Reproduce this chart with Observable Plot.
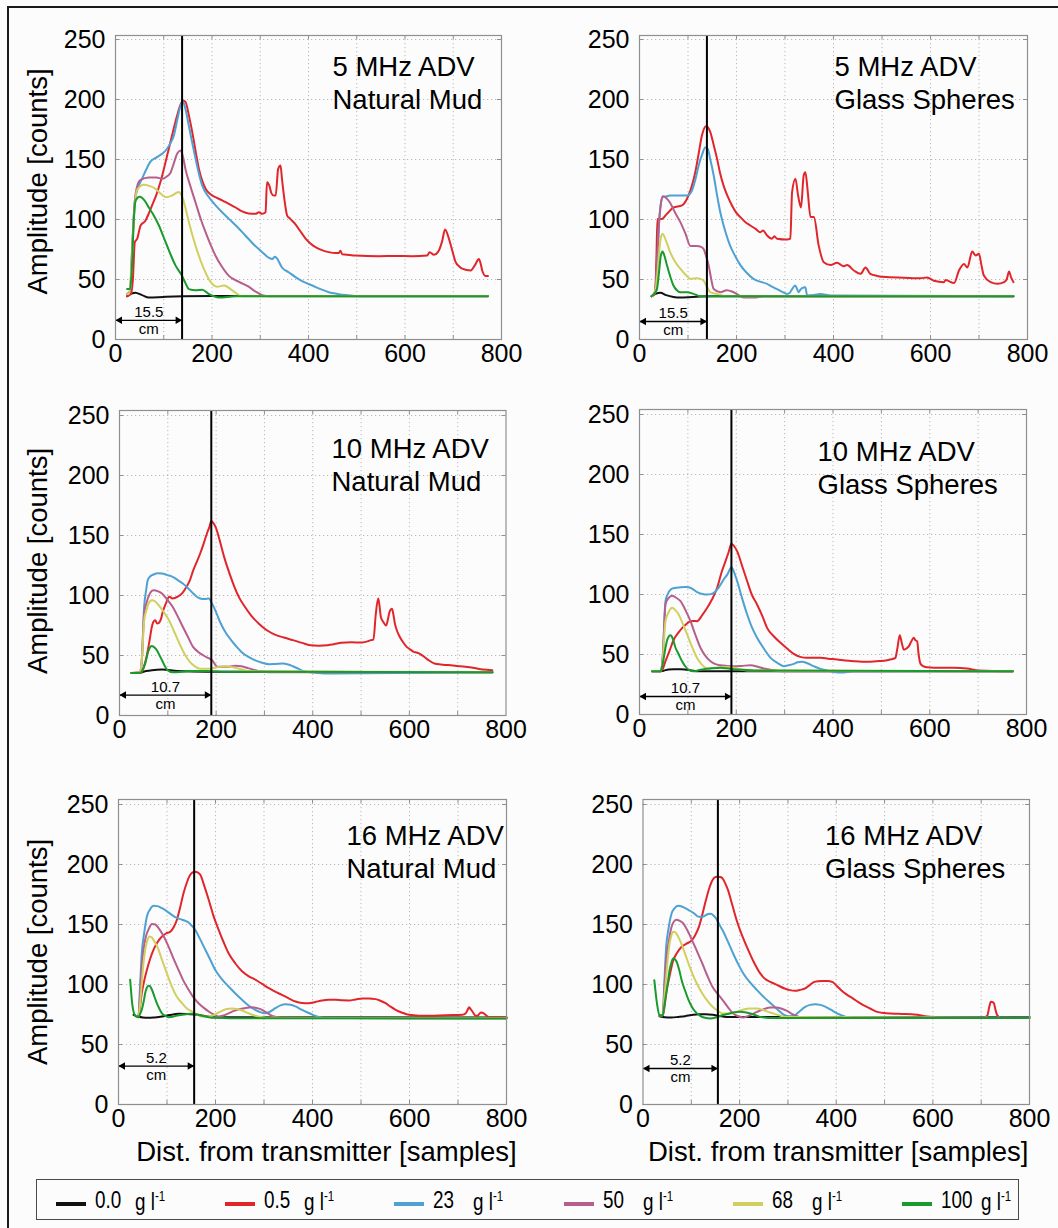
<!DOCTYPE html>
<html>
<head>
<meta charset="utf-8">
<script src="https://cdn.jsdelivr.net/npm/d3@7"></script>
<script src="https://cdn.jsdelivr.net/npm/@observablehq/plot@0.6"></script>
<style>
  html, body { margin:0; padding:0; background:#fcfcfc; }
  #fig { position:relative; width:1058px; height:1228px; overflow:hidden; background:#fcfcfc; font-family:"Liberation Sans", Arial, Helvetica, sans-serif; color:#000; }
  #outline { position:absolute; left:7px; top:6px; width:1070px; height:1240px; border-top:2px solid #1a1a1a; border-left:2px solid #1a1a1a; }
  .panel { position:absolute; }
  .panel svg { overflow:visible; }
  #legend { position:absolute; left:36px; top:1179px; width:983px; height:41px; border:1px solid #4a4a4a; box-sizing:border-box; }
  .lg-line { position:absolute; height:4px; width:30px; }
  .lg-txt { position:absolute; font-family:"Liberation Sans", Arial, sans-serif; font-size:23px; line-height:1; white-space:pre; transform:scaleX(0.82); transform-origin:0 50%; }
  .lg-txt sup { font-size:14px; }
</style>
</head>
<body>
<div id="fig">
  <div id="outline"></div>
  <div id="legend"></div>
</div>
<script>
// ---------------- series: [distance (samples), amplitude (counts)] ----------------
// 5 MHz, natural mud
const n5_0 = [[24,36],[32,38],[41,39],[55,37],[69,35],[100,35.5],[140,36],[200,36.3],[772,36.3]];
const n5_05 = [[24,36],[32,38],[36,50],[40,81],[45,84],[52,95],[62,99],[69,105],[76,112],[85,121],[93,131],[102,145],[110.5,159],[119,173],[128,187],[134,195],[140,199],[145,198],[152,187],[159,173],[166,157],[173,142],[180,132],[187,125.5],[197,121],[207,118.6],[221,116],[235,113],[249,110],[262.5,106.7],[276,105],[290,104.7],[297,106],[304,104.7],[311,106],[314,131],[319,128],[323,122],[328,120],[332,120],[337,142],[342,145],[345,134],[350,117],[356,103],[361,101],[366,99],[373,96],[380,92],[387,88],[394,84],[404,80],[414.5,77],[428,74.5],[442,72.8],[456,72],[463,72],[466,74],[470,71],[497,70],[546,69.4],[580,69.6],[615,69.4],[646,70],[651,72.8],[660,70.6],[670,74],[677,82],[683,91.7],[691,84],[698,74],[705,64.4],[712,61],[718.5,59],[736,57.5],[745,62],[753,67],[757,63],[760,57.5],[767,53],[772,53]];
const n5_23 = [[24,38],[30,40],[35,80],[40,115],[48,128],[55,134],[63,141],[72,148],[86,152],[104,157.5],[113,163],[121,170],[128,183],[135,195],[140,198],[145,192],[152,178],[159,164],[166,150.5],[173,138],[180,128],[193,119],[207,112],[221,106],[235,100.5],[252,94],[269,86.7],[287,79],[304,72.8],[318,68],[325,67],[330,69],[334,68],[345,60],[359,56],[373,52],[390,48],[408,45],[425,42],[442,39.4],[460,38],[477,37],[511,36],[772,36]];
const n5_50 = [[24,38],[30,40],[35,80],[40,115],[45,128],[52,133],[69,135],[85,135],[97,134],[107,136],[114,139],[121,147],[128,155],[135,157.5],[140,152],[145,142],[155,128],[166,114],[177,100],[187,89],[197,79],[207,70],[220,61],[235,53],[256,48],[276,44],[290,40],[304,37],[320,36],[772,36]];
const n5_68 = [[24,38],[28,38],[33,60],[38,100],[45,125],[59,129],[70,128],[83,125.5],[95,121],[104,118.6],[117,120],[131,123],[140,117],[146,108],[152,98],[166,78],[180,62],[197,48],[211,44],[225,45],[242,41],[262,36],[772,36]];
const n5_100 = [[24,42],[30,42],[34,60],[38,100],[42,116],[50,119],[60,116],[69,110],[80,103],[90,95],[100,85],[107,78],[115,70],[124,62],[138,53],[145,47],[152,42],[166,41],[180,41.4],[193,38],[214,35],[249,36],[772,36]];
// 5 MHz, glass spheres
const g5_0 = [[25,36],[33,38],[43,39],[55,37],[70,35.5],[84,35],[110,35.5],[150,36],[771,36]];
const g5_05 = [[25,36],[32,38],[35,70],[37,100.5],[46,100.5],[56.5,104.7],[70,110],[87.5,111.7],[101,120],[108,128],[115,139.4],[122,155],[128.7,170],[137.7,178],[146,172.8],[153,162],[160,150.5],[166,139],[173.5,128],[182,119],[190.7,111.7],[199,106],[208,102],[218,98],[228.5,95],[240,92],[249,89.4],[254.7,90.8],[263,86.7],[273,84],[278,86],[283.5,84],[304,83.3],[311,84],[314.6,122.8],[321.5,134],[327,120],[333,110],[338.5,136.7],[342,139.4],[347,122.8],[352.5,102],[359.5,102],[369.6,78],[380,64.4],[394,62],[407.5,64],[421,61],[428,62],[442,57.5],[455.7,54.7],[466,60],[476,54.7],[490,53],[510.6,52],[545,51.5],[579.5,51],[593,51.7],[607,49],[627.7,47.8],[631,49.5],[648.6,47],[658.7,57.5],[669,63],[676,60],[686,73.3],[693,70],[700,71.4],[705,62],[710,53.3],[724,47.8],[738,46.4],[751.6,47.8],[757,50],[762,56.7],[766,52],[771,47.8]];
const g5_23 = [[25,36],[32,40],[36,60],[40,95],[44,113],[48,118.6],[56.5,119.4],[63,120],[80,120],[98,120],[108,124],[115,133],[122,145],[129,154],[135.6,160],[140.5,159],[146,150],[153,136.7],[160,120],[166.6,106],[177,90],[187,78],[198,69],[208,62],[220,56],[235,50.5],[250,48],[263,46.4],[273,44],[283.5,42],[295,39.5],[304,38],[310,39],[314.6,42],[321,45],[325,42],[328,39.4],[331,41],[335,42.8],[342,43.6],[345.6,36.7],[360,37],[373,38],[394,36.7],[771,36]];
const g5_50 = [[25,36],[32,40],[36,60],[40,95],[44,113],[48,119.4],[55,118],[63,114],[73,106],[84,98],[95,88],[105,78],[118.5,78],[125,77.5],[132,75.6],[137,70],[142.5,62],[148,50],[153,42],[166.6,39.4],[180,41],[194,39.4],[215,35],[235,35],[256,36],[771,36]];
const g5_68 = [[25,36],[32,40],[37,55],[41,75],[44,85],[47.5,88],[55,82],[63,73],[73,65],[84,59],[95,54],[105,50.5],[118.5,51],[126,50.5],[132,49],[139,44],[146,39.4],[160,38],[180,36],[771,36]];
const g5_100 = [[25,36],[30,38],[36,42],[40,55],[44,70],[47.5,73.3],[52,69],[56.5,62],[63,53],[70,45],[77,41],[84,39.4],[98,39.4],[111.5,38],[125,36],[771,36]];
// 10 MHz, natural mud
const n10_0 = [[24,35.5],[42,35.5],[55,37],[67,37.8],[88,38.3],[120,37],[181,36.5],[772,36]];
const n10_05 = [[24,35.5],[45.7,36],[50,40],[56,49],[62,62],[67,74],[70,78],[74,79.4],[78,76.7],[81,77],[85,79.4],[90,87],[95.6,93],[103,99],[110,97.5],[120.6,99],[130,102],[138.5,107],[146,113],[152.6,121],[160,128],[167,135],[174,143],[181,151.7],[186,157],[190,162],[194,160.5],[199,157],[208,145],[216.7,132],[228,118],[238,107],[248,98],[259.5,90.6],[273,83],[288,76.7],[305,71],[324,67],[340,65],[359,62.8],[378,60.5],[395,58.6],[412,58.2],[430.6,58.6],[445,59.5],[459,60.6],[480,61],[502,60.8],[515,62],[520,62.8],[525.6,63.3],[530.6,85],[535.5,97.5],[538,92],[541,82],[546,78],[552,75],[555,79],[559,86.4],[564,89],[567,84],[570,76.7],[575,70],[580,65.6],[587,61],[595,57],[602,55],[609,53],[615,52.5],[620,51.7],[625,50.5],[630.6,49],[640,46],[652,43.3],[665,42.5],[680,42],[698,41.3],[716,40.6],[735,39.5],[751.6,38.3],[771.6,37.8]];
const n10_23 = [[24,35.5],[42,35.5],[46,45],[51,90.6],[55,104],[58.5,112.8],[64,116],[70.5,117.5],[80,118.5],[88,118.3],[99,117],[110,115.6],[120,113],[131,110],[141,106.5],[152.6,101.7],[160,99],[167,97.5],[176,97],[185,97.5],[192,93],[200,86],[209.6,76.7],[220,69],[231,62.8],[242,57.5],[252.5,53],[266,49],[281,46],[295,44],[309.5,42.8],[323,43],[338,43.3],[349,42.5],[359,41],[370,39],[380.7,37],[395,36],[409,35.5],[438,35],[772,36]];
const n10_50 = [[24,35.5],[42,35.5],[46,45],[51,85],[56,94],[60,99],[65,103],[70.5,104.4],[80,103.5],[88,101.7],[99,96.5],[110,90.6],[120,83],[131,74],[141,66],[152.6,57],[163,53],[174,50],[183,48],[192,46],[197,43],[202.6,40.6],[224,40.6],[240,41.5],[252.5,41],[266,39.5],[281,37.8],[309.6,36],[772,36]];
const n10_68 = [[24,35.5],[42,35.5],[46,45],[51,79],[56,88],[60,93],[67,96],[74,95],[81,92],[92,86],[103,79],[113,70],[124,60],[135,51],[145.6,44.7],[156,41],[167,39],[188,39],[200,40],[217,41],[238,40],[252,38.5],[267,37],[772,36]];
const n10_100 = [[24,35.5],[42,35.5],[48,38],[53,43],[60,54],[67,58],[73,56.5],[78,54],[83,50],[88,46],[99,38],[110,36],[130,36.5],[145.6,37],[181,37],[220,36.5],[772,36]];
// 10 MHz, glass spheres
const g10_0 = [[26,36],[40,36],[50,36.5],[60,37.5],[71,37.8],[85,37.8],[98.5,37.2],[126,36],[772,36]];
const g10_05 = [[26,36],[43.4,36],[48,38],[53.7,44.4],[62,53],[71,62.5],[80,68],[88,72],[97,75.5],[105.4,77.8],[112,78],[119,77.8],[130,83],[140,88.9],[150,96],[160.5,105.6],[170,119],[177.8,127.8],[184,135],[190,142.2],[196,140],[202,136],[212,124],[222.6,111],[232,100],[243,91.7],[254,82],[264,72],[278,65],[291.5,59.7],[305,55],[319,50.5],[332,48],[346.6,47.2],[374,47.2],[390,46.5],[408.6,45.8],[425,45],[443,44.4],[460,44],[477.5,43.9],[495,44.5],[512,45.3],[521,46],[529,47.2],[533,55],[538,66],[542,60],[546.4,54],[552,55],[557,57],[562,61],[567,63.9],[570,62],[574,61],[577,50],[581,42.2],[588,40],[594.7,39.4],[622,38.9],[650,38.9],[677,38.3],[701.5,36.7],[772,36]];
const g10_23 = [[26,36],[43.4,36],[48,48],[53.7,94.4],[58,100],[64,104],[72,105.5],[84.8,106],[95,106.2],[102,106],[110,104.5],[119,102],[130,100.5],[140,100],[147,100.3],[153.7,101.4],[164,106],[174,112.5],[182,117],[190,122.8],[196,118],[202,111],[212,97],[222.6,83.3],[232,73],[243,64],[257,55],[271,47.2],[285,43],[298,40.3],[308,41],[319,42.2],[327,43.5],[336,43.9],[348,42.5],[360,40.3],[374,38],[388,36.7],[415.5,35],[443,36],[772,36]];
const g10_50 = [[26,36],[43.4,36],[48,48],[53.7,91.7],[60,97],[67.5,99],[75,97.5],[84.8,94.4],[95,87],[105.4,77.8],[115,67],[126,55.6],[135,49.5],[146.8,44.4],[157,42],[167.4,41],[180,40.5],[195,40.3],[210,40.5],[229.5,41],[243,40],[257,38.3],[275,37],[291.5,36],[772,36]];
const g10_68 = [[26,36],[43.4,36],[48,45],[53.7,77.8],[60,85],[67.5,88.9],[74,87],[81,83.3],[90,75],[98.5,66.7],[108,57],[119,47],[128,42],[140,38.3],[155,39],[167.4,39.4],[180,39.5],[195,38.9],[210,37.5],[222.6,36.7],[772,36]];
const g10_100 = [[26,36],[43.4,36],[48,42],[53.7,55.6],[58,63],[64,66],[69,63],[74.4,55.6],[80,51],[88,44.4],[95,40],[102,37.2],[112,36],[122,36.8],[133,37.8],[150,38.5],[167.4,38.9],[180,38.5],[195,37.8],[215,37.2],[236,36.7],[772,36]];
// 16 MHz, natural mud
const n16_0 = [[31,74.7],[41,73.3],[50,72.5],[62,72.2],[75,72.6],[89.6,73.3],[105,74.5],[124,75.6],[140,75.5],[158,75],[175,74],[193,72.8],[227,72.8],[800,72.6]];
const n16_05 = [[34.5,74],[41,72.8],[44,80],[48,92.8],[53,103],[58.5,112],[65,121],[72.3,129],[80,135],[89.6,140],[98,142.5],[106.7,144],[114,148],[120.5,154],[127,164],[134,176],[141,185],[148,191.4],[153,193.5],[158,194],[163,193.5],[168.7,191.4],[177,182],[186,170.6],[196,157],[206.5,145.6],[217,135],[227,126],[241,117.5],[254.7,111],[268,107],[282,104],[296,100.5],[310,97],[323,94],[337,91.4],[351,88.5],[365,85.8],[378,84.6],[392.5,84.4],[406,85.5],[420,86.7],[433,87.2],[447.5,87.2],[461,86.8],[475,86.7],[489,87.5],[502.5,88.3],[516,88.3],[530,87.8],[540,86.5],[550.7,84.4],[561,81.5],[571.4,78.9],[585,76.5],[599,74.7],[620,74],[640,73.9],[675,74.4],[709,74.7],[716,76],[720,79],[723,81],[726,79.5],[729.7,77.5],[736.6,73.9],[742,74.5],[747,76.7],[751,76.5],[754,75.6],[759,74],[764,72.8],[800,72.8]];
const n16_23 = [[34.5,74],[41,72.8],[44,95],[48,126],[53,143],[58.5,156.7],[65,162.5],[72.3,165.6],[80,165.3],[89.6,163.6],[100,161],[110,158],[120,155.5],[131,154],[138,153],[144.6,151.7],[151,149],[158,145.6],[168,138],[179,129],[190,120],[199.6,112],[213,104.5],[227,98.3],[241,92.5],[254.7,87.2],[268,82.5],[282,78.9],[292,77],[303,76],[313,77.5],[323.5,80.3],[334,82.6],[344,83.6],[355,83.2],[365,81.7],[375,79.5],[385.5,77.5],[396,75.6],[406,73.9],[416,72.8],[427,72.2],[800,71.8]];
const n16_50 = [[34.5,74],[41,72.8],[44,88],[48,115],[52,130],[56.5,140],[62,146],[69,150.5],[76,150],[82.6,147],[92,141],[103,131.7],[113,122],[124,112],[134,103],[144.6,95.6],[155,89],[165,84.4],[176,80.5],[186,77.5],[196,75],[206.5,73.3],[217,74.3],[227,76],[238,78],[248,79.4],[262,80.5],[275,81],[286,80.3],[296,78.9],[306,76.5],[316.7,73.9],[327,72.8],[337,72.2],[800,71.8]];
const n16_68 = [[34.5,74],[41,72.8],[44,82],[48,101],[51,116],[55,128.9],[59,136],[63.4,140],[68,139.5],[72.3,137],[80,131.5],[89.6,120.6],[100,109],[110,98.3],[120,90],[131,84.4],[141,80],[151.5,77.5],[162,75],[172,73.3],[183,73.3],[193,73.9],[203,76],[213.4,78],[223,79.5],[234,80],[244,79.6],[254.7,78.3],[268,76],[282,73.9],[296,72.8],[310,72.2],[800,71.8]];
const n16_100 = [[24,104],[29,81.7],[34.5,74],[41,72.8],[44,75],[48,79],[52,86],[55,92.8],[58,97],[62,99],[65,98.5],[69,95.6],[74,90],[79,84.4],[84,80],[89.6,76],[96,74],[103,72.8],[112,73.2],[124,74.4],[140,75.3],[151,75.6],[162,75],[172,73.9],[186,72.8],[200,72.2],[230,71.8],[800,71.7]];
// 16 MHz, glass spheres
const g16_0 = [[34,73.6],[45,72.8],[59,72.5],[73,73],[87,73.6],[100,74.5],[115.7,75.3],[130,75.2],[144,74.7],[158,73.8],[172.5,73],[800,73]];
const g16_05 = [[34,74.4],[41,74.4],[44,80],[48,92.5],[55,107],[62.5,120],[70,126],[80,131.4],[90,134],[101.5,137],[108,141],[115.7,148],[122,157],[130,170],[137,180],[144,187],[150,189.5],[154.7,189.7],[160,189.5],[165,188.3],[170,184.5],[176,178.6],[185,166],[193.8,153.6],[204,142],[215,131.4],[229,119],[243,109],[253,104.5],[264.7,102],[278,99.5],[293,96.7],[304,95.3],[314.4,94.7],[325,95.5],[335.7,96.7],[345,99.5],[353.4,102],[362,102.8],[371,103],[382,103],[392.5,102],[402,98.5],[413.8,93.9],[424,91],[435,88.3],[445,85.5],[456,82.8],[470,80],[484.7,77.2],[499,76.2],[513,75.8],[535,75.5],[555.7,75.3],[570,74.6],[584,73.6],[600,73],[612.5,72.5],[704.7,72.5],[710,73.2],[713,74.4],[716,80],[720,85.6],[726,84.7],[729,80],[733,74.4],[740,72.5],[800,72.5]];
const g16_23 = [[34,74.4],[41,74.4],[44,100],[48,131.4],[53,147],[59,159],[65,163.5],[73,165.6],[83,164.5],[94.4,162],[105,159.5],[115.7,156.4],[123,156.5],[130,157.8],[135,158.7],[140.5,159],[146,157.5],[151.3,155],[158,150],[165,145],[176,135.5],[186.6,125.8],[197,117],[208,109],[222,101.5],[236,95.3],[250,89.5],[264.7,84.2],[279,79],[293,74.4],[304,73.5],[314.4,74.4],[325,78],[335.7,81.4],[346,83],[357,83.6],[367,83],[378,81.4],[389,79],[399.6,76.4],[410,74.5],[421,73],[440,72.5],[800,72.5]];
const g16_50 = [[34,74.4],[41,74.4],[44,95],[48,120],[53,135],[59,148],[64,152.5],[69.6,154],[76,153],[83.7,150.8],[92,145],[101.5,137],[112,127.5],[122.8,117.5],[133,107.5],[144,98],[155,92],[165,87],[176,81],[186.6,75.8],[197,73.5],[208,72.5],[222,74.5],[236,77.2],[250,79.5],[264.7,80.8],[276,80.8],[286,80],[297,78.2],[307,75.8],[318,73.8],[328.6,72.5],[800,72]];
const g16_68 = [[34,74.4],[41,74.4],[44,88],[48,106],[51,120],[55,134],[58.5,140.5],[62.5,144],[67,143.5],[73,139.7],[80,133.5],[87,125.8],[95,116.5],[105,106.4],[114,98.8],[122.8,92.5],[133,86.5],[144,81.4],[155,78],[165,75.8],[176,75.8],[186.6,76.4],[197,77.6],[208,79.2],[222,80],[236,80],[250,78.5],[264.7,76.4],[279,74.7],[293,73],[800,72]];
const g16_100 = [[23.4,103.6],[29,84],[34,74.4],[41,74.4],[44,82],[48,92.5],[52,103],[55,112],[59,118.5],[62.5,121.7],[66,121],[69.6,119],[75,112],[80,103.6],[87,95],[94.4,87],[101,81.5],[108.6,77.2],[117,74.3],[126,72.5],[140.5,71.7],[150,72.5],[158,73.6],[168,74.8],[179.6,75.8],[190,76.8],[201,77.2],[211,76.8],[222,75.8],[233,74.4],[243,73],[272,72],[800,72]];

// ---------------- categories, labels, ticks ----------------
const concLabels = ["0.0", "0.5", "23", "50", "68", "100"];
const panelTitles = ["5 MHz ADV\nNatural Mud", "5 MHz ADV\nGlass Spheres", "10 MHz ADV\nNatural Mud", "10 MHz ADV\nGlass Spheres", "16 MHz ADV\nNatural Mud", "16 MHz ADV\nGlass Spheres"];
const zoneDist = [138, 139, 190, 190, 156, 155];          // samples
const zoneLabel = ["15.5", "15.5", "10.7", "10.7", "5.2", "5.2"]; // cm
const zoneArrowLevel = [16, 15, 17, 15, 32, 30];           // counts
const xTickLabels = [0, 200, 400, 600, 800];
const xGridTicks = [100, 200, 300, 400, 500, 600, 700];
const yTickLabels = [0, 50, 100, 150, 200, 250];
const yGridTicks = [50, 100, 150, 200, 250];
const yLabelText = "Amplitude [counts]";
const xLabelText = "Dist. from transmitter [samples]";

const panelSeries = [
  [n5_0, n5_05, n5_23, n5_50, n5_68, n5_100],
  [g5_0, g5_05, g5_23, g5_50, g5_68, g5_100],
  [n10_0, n10_05, n10_23, n10_50, n10_68, n10_100],
  [g10_0, g10_05, g10_23, g10_50, g10_68, g10_100],
  [n16_0, n16_05, n16_23, n16_50, n16_68, n16_100],
  [g16_0, g16_05, g16_23, g16_50, g16_68, g16_100]
];

// ---------------- styles & layout ----------------
const concColors = ["#111111", "#e0262b", "#4ea1d3", "#b65f8c", "#d1cf5f", "#189a2c"];
const FONT = '"Liberation Sans", Arial, Helvetica, sans-serif';
const frameColor = "#8f8f8f";
const gridColor = "#b9b9b9";
const layout = [
  {left: 0,   fx0: 115,   fx1: 501,   fy0: 35,  fy1: 339,  tdx: 217, tdy: 73, ylab: true, ylDy: -6},
  {left: 530, fx0: 639,   fx1: 1027,  fy0: 35,  fy1: 339,  tdx: 195, tdy: 73},
  {left: 0,   fx0: 119,   fx1: 505.5, fy0: 410, fy1: 715,  tdx: 212, tdy: 80, ylab: true, ylDy: -2},
  {left: 530, fx0: 639,   fx1: 1026,  fy0: 409, fy1: 714,  tdx: 178, tdy: 84},
  {left: 0,   fx0: 118,   fx1: 506,   fy0: 799, fy1: 1104, tdx: 228, tdy: 78, ylab: true, ylDy: 0, xlab: true, xlDx: 14},
  {left: 530, fx0: 642.5, fx1: 1029,  fy0: 799, fy1: 1104, tdx: 182, tdy: 78, xlab: true, xlDx: 2}
];
const pxPerCount = 1.2;
const mT = 12, mR = 30, mB = 75;

const fig = document.getElementById("fig");

layout.forEach((L, i) => {
  const top = L.fy0 - mT;
  const mL = L.fx0 - L.left;
  const width = L.fx1 - L.left + mR;
  const height = L.fy1 - top + mB;
  const yMax = (L.fy1 - L.fy0) / pxPerCount;
  const xPerPx = 800 / (L.fx1 - L.fx0);
  const tx = 4 * xPerPx, ty = 4 / pxPerCount;
  const dist = zoneDist[i], lvl = zoneArrowLevel[i];

  const marks = [
    Plot.ruleX(xGridTicks, {stroke: gridColor, strokeWidth: 1, strokeDasharray: "1.2,2.8"}),
    Plot.ruleY(yGridTicks, {stroke: gridColor, strokeWidth: 1, strokeDasharray: "1.2,2.8"}),
    // inward ticks on all four sides
    Plot.ruleY(yTickLabels, {x1: 0, x2: tx, stroke: frameColor}),
    Plot.ruleY(yTickLabels, {x1: 800 - tx, x2: 800, stroke: frameColor}),
    Plot.ruleX(xGridTicks, {y1: 0, y2: ty, stroke: frameColor}),
    Plot.ruleX(xGridTicks, {y1: yMax - ty, y2: yMax, stroke: frameColor}),
  ];
  panelSeries[i].forEach((s, k) => {
    marks.push(Plot.line(s, {x: d => d[0], y: d => d[1], stroke: concColors[k], strokeWidth: 2, curve: "monotone-x"}));
  });
  marks.push(
    Plot.ruleX([dist], {stroke: "#000", strokeWidth: 2}),
    Plot.link([{a: 0, b: dist, y: lvl}], {x1: "a", x2: "b", y1: "y", y2: "y", stroke: "#000", strokeWidth: 1.3}),
    Plot.dot([{x: 0, y: lvl}], {x: "x", y: "y", symbol: "triangle", r: 2.8, fill: "#000", stroke: "none", rotate: -90, dx: 4.3}),
    Plot.dot([{x: dist, y: lvl}], {x: "x", y: "y", symbol: "triangle", r: 2.8, fill: "#000", stroke: "none", rotate: 90, dx: -4.3}),
    Plot.text([zoneLabel[i]], {x: dist / 2, y: lvl, text: d => d, lineAnchor: "bottom", dy: -3.5, fontSize: 15, fill: "#000"}),
    Plot.text(["cm"], {x: dist / 2, y: lvl, text: d => d, lineAnchor: "bottom", dy: 13.5, fontSize: 15, fill: "#000"}),
    Plot.text([panelTitles[i]], {frameAnchor: "top-left", text: d => d, textAnchor: "start", lineAnchor: "bottom", lineHeight: 1.2, dx: L.tdx, dy: L.tdy, fontSize: 27.5, fill: "#000"}),
    Plot.axisY({ticks: yTickLabels, anchor: "left", tickSize: 0, tickPadding: 10, fontSize: 25, label: null, tickFormat: d => String(d)}),
    Plot.axisX({ticks: xTickLabels, anchor: "bottom", tickSize: 0, tickPadding: 5, fontSize: 25, label: null, tickFormat: d => String(d)}),
    Plot.frame({stroke: frameColor, strokeWidth: 1.2})
  );
  if (L.ylab) {
    marks.push(Plot.text([yLabelText], {frameAnchor: "left", text: d => d, textAnchor: "middle", lineAnchor: "middle", rotate: -90, dx: 38 - L.fx0, dy: L.ylDy, fontSize: 27.5, fill: "#000"}));
  }
  if (L.xlab) {
    marks.push(Plot.text([xLabelText], {frameAnchor: "bottom", text: d => d, textAnchor: "middle", lineAnchor: "bottom", dx: L.xlDx, dy: 56, fontSize: 27.5, fill: "#000"}));
  }

  const svg = Plot.plot({
    width, height,
    marginLeft: mL, marginRight: mR, marginTop: mT, marginBottom: mB,
    x: {domain: [0, 800], label: null},
    y: {domain: [0, yMax], label: null},
    style: {background: "transparent", overflow: "visible", fontFamily: FONT, color: "#000", maxWidth: "none"},
    marks
  });
  const holder = document.createElement("div");
  holder.className = "panel";
  holder.style.left = L.left + "px";
  holder.style.top = top + "px";
  holder.appendChild(svg);
  fig.appendChild(holder);
});

// ---------------- legend ----------------
const legend = document.getElementById("legend");
concLabels.forEach((lab, k) => {
  const x0 = 19 + 169.2 * k;
  const line = document.createElement("div");
  line.className = "lg-line";
  line.style.left = x0 + "px";
  line.style.top = "22px";
  line.style.background = concColors[k];
  legend.appendChild(line);
  const num = document.createElement("span");
  num.className = "lg-txt";
  num.style.left = (x0 + 39) + "px";
  num.style.top = "9px";
  num.textContent = lab;
  legend.appendChild(num);
  const unit = document.createElement("span");
  unit.className = "lg-txt";
  unit.style.left = (x0 + 79) + "px";
  unit.style.top = "9px";
  unit.innerHTML = "g l<sup>-1</sup>";
  legend.appendChild(unit);
});
</script>
</body>
</html>
